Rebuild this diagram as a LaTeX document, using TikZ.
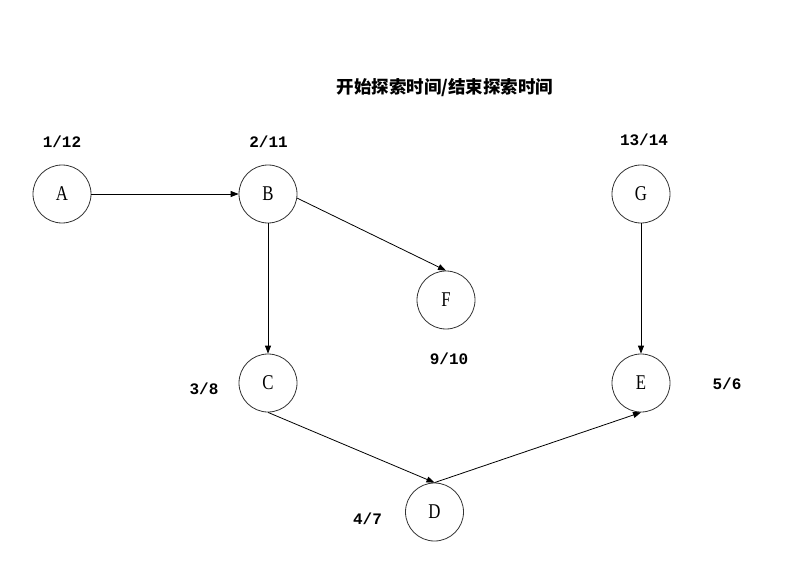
\documentclass[tikz,border=0pt]{standalone}
\usepackage{fontspec}
\setmainfont{Liberation Serif}
\newfontfamily\cjk{Noto Sans CJK SC}
\newfontfamily\nums{Liberation Mono}
\usetikzlibrary{arrows.meta}
\newcommand{\vletter}[1]{\scalebox{0.8}[1]{#1}}
\tikzset{
  vert/.style={circle, draw=black!80, line width=0.8pt, minimum size=58pt, inner sep=0pt, font=\fontsize{21}{21}\selectfont},
  lbl/.style={inner sep=0pt, font=\nums\bfseries\fontsize{16}{16}\selectfont},
  edge/.style={line width=0.8pt, -{Triangle[length=8pt,width=6pt]}}
}
\begin{document}
\begin{tikzpicture}[x=1pt,y=-1pt]
\useasboundingbox[fill=white] (0,0) rectangle (795,572);
\node[vert] (A) at (62,194) {\vletter{A}};
\node[vert] (B) at (268,194) {\vletter{B}};
\node[vert] (G) at (641,194) {\vletter{G}};
\node[vert] (F) at (446,300) {\vletter{F}};
\node[vert] (C) at (268,383) {\vletter{C}};
\node[vert] (E) at (641,383) {\vletter{E}};
\node[vert] (D) at (434.5,512) {\vletter{D}};

\node[inner sep=0pt, font=\cjk\bfseries\fontsize{17.5}{18}\selectfont] (title) at (445,87.5) {开始探索时间/结束探索时间};
\node[lbl] (lA) at (62,141.5) {1/12};
\node[lbl] (lB) at (268.5,141.5) {2/11};
\node[lbl] (lG) at (644,139.5) {13/14};
\node[lbl] (lF) at (449,359) {9/10};
\node[lbl] (lC) at (204,389) {3/8};
\node[lbl] (lE) at (727,384) {5/6};
\node[lbl] (lD) at (367.5,519) {4/7};

\draw[edge] (A.east) -- (B.west);
\draw[edge] (B.south) -- (C.north);
\draw[edge] (B.-8) -- (F.north);
\draw[edge] (C.south) -- (D.north);
\draw[edge] (D.north) -- (E.south);
\draw[edge] (G.south) -- (E.north);
\end{tikzpicture}
\end{document}
